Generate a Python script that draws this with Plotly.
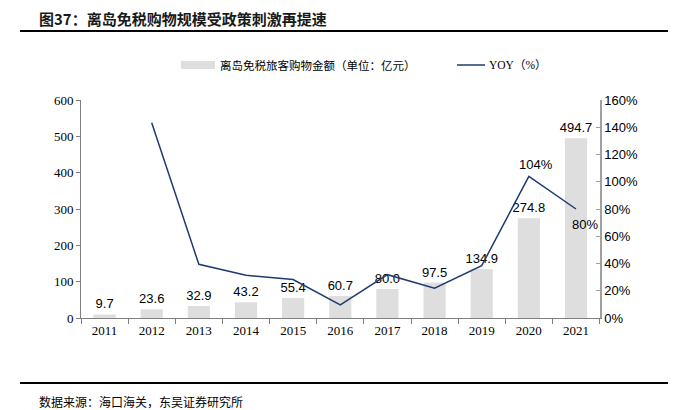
import plotly.graph_objects as go

years = ["2011", "2012", "2013", "2014", "2015", "2016", "2017", "2018", "2019", "2020", "2021"]
sales = [9.7, 23.6, 32.9, 43.2, 55.4, 60.7, 80.0, 97.5, 134.9, 274.8, 494.7]
yoy = [None, 143.3, 39.4, 31.3, 28.2, 9.6, 31.8, 21.9, 38.4, 104.0, 80.0]
yoy_labels = ["", "", "", "", "", "", "", "", "", "104%", "80%"]

# page body has an 8px default margin; work in reference pixel coords and shift
OFF = 8
W, H = 681 - OFF, 410 - OFF
L, R, T, B = 81 - OFF, 600 - OFF, 100 - OFF, 318 - OFF

def px(x):
    return (x - OFF - L) / (R - L)

def py(y):
    return (B - (y - OFF)) / (B - T)

fig = go.Figure()
fig.add_trace(go.Bar(
    x=years, y=sales, name="离岛免税旅客购物金额（单位：亿元）",
    marker=dict(color="#dedede", line=dict(width=0)),
    width=0.47,
    text=[f"{v:.1f}" for v in sales], textposition="outside", constraintext="none",
    textfont=dict(family="Liberation Sans, Arial", size=13, color="#000000"),
    cliponaxis=False,
))
fig.add_trace(go.Scatter(
    x=years, y=yoy, name="YOY（%）", yaxis="y2", mode="lines",
    line=dict(color="#1f3b70", width=1.5),
    cliponaxis=False,
))

axis_font = dict(family="Liberation Serif, Times New Roman, serif", size=13, color="#000000")
fig.update_layout(
    width=W, height=H,
    margin=dict(l=L, r=W - R, t=T, b=H - B, pad=0),
    paper_bgcolor="white", plot_bgcolor="white",
    showlegend=False,
    xaxis=dict(
        type="category", showgrid=False, showline=True, linecolor="#808080", linewidth=1,
        ticks="outside", tickson="boundaries", ticklen=5, tickcolor="#808080",
        tickfont=axis_font, zeroline=False,
    ),
    yaxis=dict(
        range=[0, 600], dtick=100, showgrid=False, showline=True, linecolor="#808080",
        linewidth=1, ticks="outside", ticklen=4, tickcolor="#808080",
        tickfont=axis_font, zeroline=False,
    ),
    yaxis2=dict(
        range=[0, 160], dtick=20, overlaying="y", side="right", showgrid=False,
        showline=True, linecolor="#a0a0a0", linewidth=1.5, ticks="inside", ticklen=4,
        tickcolor="#a0a0a0", ticksuffix="%",
        tickfont=dict(family="Liberation Sans, Arial", size=13, color="#000000"),
        zeroline=False,
    ),
)

shapes = [
    dict(type="line", xref="paper", yref="paper", x0=px(20), x1=px(668), y0=py(31), y1=py(31),
         line=dict(color="#000000", width=2)),
    dict(type="line", xref="paper", yref="paper", x0=px(20), x1=px(668), y0=py(383), y1=py(383),
         line=dict(color="#000000", width=2)),
    dict(type="rect", xref="paper", yref="paper", x0=px(181), x1=px(215), y0=py(69), y1=py(61),
         fillcolor="#dedede", line=dict(width=0)),
    dict(type="line", xref="paper", yref="paper", x0=px(457), x1=px(485), y0=py(65), y1=py(65),
         line=dict(color="#1f3b70", width=1.5)),
]
fig.update_layout(shapes=shapes)

label_font = dict(family="Liberation Sans, Arial", size=13, color="#000000")
annotations = [
    dict(text="<b>图37：离岛免税购物规模受政策刺激再提速</b>", xref="paper", yref="paper",
         x=px(37), y=py(18), xanchor="left", yanchor="middle", showarrow=False,
         font=dict(family="Noto Sans CJK SC", size=15, color="#1a1a1a")),
    dict(text="离岛免税旅客购物金额（单位：亿元）", xref="paper", yref="paper",
         x=px(218), y=py(65), xanchor="left", yanchor="middle", showarrow=False,
         font=dict(family="Noto Sans CJK SC", size=11.5, color="#000000")),
    dict(text="YOY（%）", xref="paper", yref="paper",
         x=px(487), y=py(65), xanchor="left", yanchor="middle", showarrow=False,
         font=dict(family="Liberation Serif, Noto Sans CJK SC", size=11.5, color="#000000")),
    dict(text="数据来源：海口海关，东吴证券研究所", xref="paper", yref="paper",
         x=px(37), y=py(401), xanchor="left", yanchor="middle", showarrow=False,
         font=dict(family="Noto Sans CJK SC", size=12, color="#000000")),
    dict(text=yoy_labels[9], x=9, y=yoy[9], xref="x", yref="y2", showarrow=False,
         xshift=7, yshift=12, font=label_font),
    dict(text=yoy_labels[10], x=10, y=yoy[10], xref="x", yref="y2", showarrow=False,
         xshift=9, yshift=-15, font=label_font),
]
fig.update_layout(annotations=annotations)

fig.write_html("out.html")
